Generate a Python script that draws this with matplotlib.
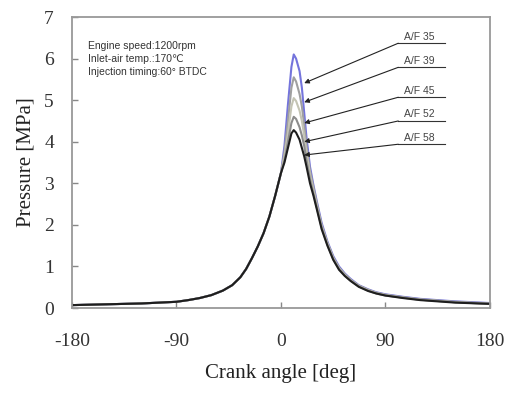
import numpy as np
import matplotlib
matplotlib.use('Agg')
import matplotlib.pyplot as plt

plt.rcParams['axes.unicode_minus'] = False

# ------------ data ------------
angle = [-180, -165, -150, -135, -120, -105, -90, -80, -70, -60, -50, -42,
         -35, -30, -25, -20, -15, -10, -5, 0,
         3, 6, 9, 11, 13, 16, 18, 20, 22, 25, 28, 31, 35, 40, 45, 50,
         55, 60, 67, 75, 82, 90, 105, 120, 150, 180]

compression = [0.07, 0.08, 0.09, 0.1, 0.11, 0.13, 0.15, 0.19, 0.24, 0.31, 0.42, 0.55,
               0.74, 0.94, 1.2, 1.48, 1.8, 2.2, 2.7, 3.25]

af35 = compression + [3.9, 4.9, 5.8, 6.1, 6.0, 5.7, 5.3, 4.7, 4.1, 3.4, 2.95, 2.55,
                      2.05, 1.6, 1.25, 1.0, 0.83, 0.7, 0.55, 0.45, 0.38, 0.33,
                      0.27, 0.22, 0.16, 0.12]
af39 = compression + [3.75, 4.5, 5.3, 5.55, 5.45, 5.15, 4.85, 4.4, 3.9, 3.3, 2.9, 2.5,
                      2.0, 1.57, 1.22, 0.97, 0.81, 0.68, 0.54, 0.44, 0.37, 0.32,
                      0.26, 0.21, 0.15, 0.11]
af45 = compression + [3.65, 4.2, 4.85, 5.05, 4.98, 4.75, 4.5, 4.15, 3.75, 3.2, 2.82, 2.45,
                      1.97, 1.55, 1.2, 0.96, 0.8, 0.67, 0.53, 0.43, 0.36, 0.31,
                      0.25, 0.2, 0.14, 0.1]
af52 = compression + [3.55, 4.0, 4.45, 4.6, 4.55, 4.35, 4.15, 3.9, 3.55, 3.1, 2.75, 2.4,
                      1.94, 1.52, 1.18, 0.94, 0.78, 0.66, 0.52, 0.42, 0.35, 0.3,
                      0.25, 0.2, 0.14, 0.1]
af58 = compression + [3.5, 3.85, 4.2, 4.28, 4.22, 4.05, 3.85, 3.65, 3.4, 3.0, 2.7, 2.36,
                      1.9, 1.5, 1.16, 0.92, 0.77, 0.65, 0.51, 0.41, 0.35, 0.3,
                      0.24, 0.19, 0.13, 0.1]

labels = ['A/F 35', 'A/F 39', 'A/F 45', 'A/F 52', 'A/F 58']
colors = ['#7474dc', '#a0a0a0', '#c4c4b4', '#8c8c8c', '#1e1e1e']
# label annotation: arrow tip pressure, elbow pressure
tip_p = [5.41, 4.95, 4.45, 4.0, 3.68]
elbow_p = [6.37, 5.79, 5.07, 4.5, 3.94]

# ------------ plot ------------
fig = plt.figure(figsize=(5.08, 3.99), dpi=100)
ax = fig.add_axes([0.1417, 0.228, 0.8228, 0.7293])

for y, c in zip([af35, af39, af45, af52, af58], colors):
    ax.plot(angle, y, color=c, lw=1.5)

for lab, tp, ep in zip(labels, tip_p, elbow_p):
    ax.annotate('', xy=(20, tp), xytext=(101, ep),
                arrowprops=dict(arrowstyle='-|>', color='#222222', lw=0.8,
                                mutation_scale=7, shrinkA=0, shrinkB=0))
    ax.plot([101, 141], [ep, ep], color='#333333', lw=0.8)
    ax.text(119, ep + 0.04, lab, fontsize=7.5, color='#444444',
            ha='center', va='bottom', family=['Liberation Sans', 'DejaVu Sans'])

ax.text(-166, 6.42, 'Engine speed:1200rpm\nInlet-air temp.:170\u2103\nInjection timing:60\u00b0 BTDC',
        fontsize=7.5, color='#333333', va='top', ha='left', linespacing=1.35,
        family=['Liberation Sans', 'DejaVu Sans'])

ax.set_xlim(-180, 180)
ax.set_ylim(0, 7)
ax.set_xticks([-180, -90, 0, 90, 180])
ax.set_yticks(range(0, 8))
ax.tick_params(direction='in', length=4, width=1, color='#888888',
               labelsize=14, labelcolor='#333333', top=False, right=False)
ax.tick_params(axis='x', pad=18)
ax.tick_params(axis='y', pad=13)
for lab in ax.get_xticklabels() + ax.get_yticklabels():
    lab.set_family('Liberation Serif')
for s in ax.spines.values():
    s.set_color('#999999')
    s.set_linewidth(1.3)

ax.set_xlabel('Crank angle [deg]', family='Liberation Serif', fontsize=15,
              color='#222222', labelpad=10)
ax.set_ylabel('Pressure [MPa]', family='Liberation Serif', fontsize=15,
              color='#222222', labelpad=6)

plt.savefig('out.png', dpi=100)
